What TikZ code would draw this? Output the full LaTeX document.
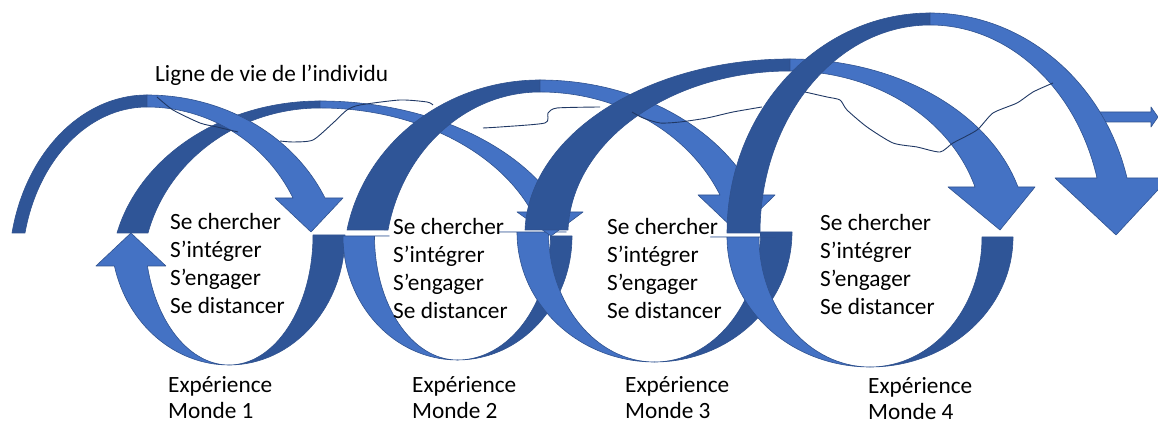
\documentclass[tikz,border=0pt]{standalone}
\usepackage{fontspec}
\setmainfont{Carlito}
\usepackage{tikz}

\definecolor{ringlight}{HTML}{4472C4}
\definecolor{ringdark}{HTML}{2F5597}
\definecolor{ringedge}{HTML}{2F528F}
\definecolor{lifeline}{HTML}{203864}

\tikzset{
    front/.style={fill=ringlight, draw=ringedge, line width=0.6pt, line join=round},
    back/.style={fill=ringdark, draw=ringedge, line width=0.6pt, line join=round},
    wave/.style={draw=lifeline, line width=0.9pt, line join=round},
    word/.style={font=\fontsize{23.3}{28}\selectfont, inner sep=0pt, anchor=base west}
}

\begin{document}
\begin{tikzpicture}[x=1pt,y=1pt]
                \useasboundingbox (0,0) rectangle (1158,427);

                % Arrow leaving on the right
                \draw[front] (1090,305) -- (1151,305) -- (1151,300) -- (1158,310) -- (1151,320) -- (1151,315) -- (1090,315) -- cycle;

                % Lower half of each world (values measured from the top)
                \foreach \cx/\ty/\by/\rol/\ror/\ril/\rir/\dy/\w/\h in {229/235/365/118/116/84/84/31/35/33, 457.5/236/360/114.5/114.5/83/93/0/30.5/0, 654.5/232/362/137.5/137.5/106/106/0/33.5/0, 870/237/367/143/143/111/112/0/32.5/0}
                {
                    \pgfmathsetmacro\ry{\by-\ty}
                    \pgfmathsetmacro\ang{asin(\dy/\ry)}
                    \pgfmathsetmacro\xo{\cx-\rol*cos(\ang)}
                    \pgfmathsetmacro\xin{\cx-\ril*cos(\ang)}
                    \pgfmathsetmacro\xm{(\xo+\xin)/2}
                    \draw[back] ({\cx+\ror},{427-\ty}) arc[start angle=0, end angle=-90, x radius=\ror, y radius=\ry]
                        arc[start angle=-90, end angle=0, x radius=\rir, y radius=\ry] -- cycle;
                    \draw[front] (\xo,{427-\ty-\dy}) arc[start angle={180+\ang}, end angle=270, x radius=\rol, y radius=\ry]
                        arc[start angle=270, end angle={180+\ang}, x radius=\ril, y radius=\ry]
                        -- ({\xm+\w},{427-\ty-\dy}) -- (\xm,{427-\ty-\dy+\h}) -- ({\xm-\w},{427-\ty-\dy}) -- cycle;
                }

                % Upper arcs, going from one world to the next
                \foreach \yo/\xLo/\xLi/\xp/\cy/\ypo/\ypi/\yb/\xRo/\xRi/\xbL/\xbR/\xt/\yt in {233/117/148/320/275/101/108/212/562/532/517/583/551/236, 233/12/25/147/270/95/107/198/325/293/275/343/311/232, 230/347/388/540/265/80/92/195/755/720/698/775/737/232, 230/525/568/790/235/59/71/187/1018/975/948/1035/1000/230, 233/727/760/930/233/13/25/178/1127/1097/1055/1169/1116/235}
                {
                    \pgfmathsetmacro\ryo{\cy-\ypo}
                    \pgfmathsetmacro\ryi{\cy-\ypi}
                    \pgfmathsetmacro\aLo{180-asin((\cy-\yo)/\ryo)}
                    \pgfmathsetmacro\aLi{180-asin((\cy-\yo)/\ryi)}
                    \pgfmathsetmacro\aRo{asin((\cy-\yb)/\ryo)}
                    \pgfmathsetmacro\aRi{asin((\cy-\yb)/\ryi)}
                    \pgfmathsetmacro\rLo{(\xp-\xLo)/cos(180-\aLo)}
                    \pgfmathsetmacro\rLi{(\xp-\xLi)/cos(180-\aLi)}
                    \pgfmathsetmacro\rRo{(\xRo-\xp)/cos(\aRo)}
                    \pgfmathsetmacro\rRi{(\xRi-\xp)/cos(\aRi)}
                    \draw[back] (\xLo,{427-\yo}) arc[start angle=\aLo, end angle=90, x radius=\rLo, y radius=\ryo]
                        -- (\xp,{427-\ypi}) arc[start angle=90, end angle=\aLi, x radius=\rLi, y radius=\ryi] -- cycle;
                    \draw[front] (\xRi,{427-\yb}) arc[start angle=\aRi, end angle=90, x radius=\rRi, y radius=\ryi]
                        -- (\xp,{427-\ypo}) arc[start angle=90, end angle=\aRo, x radius=\rRo, y radius=\ryo]
                        -- (\xbR,{427-\yb}) -- (\xt,{427-\yt}) -- (\xbL,{427-\yb}) -- cycle;
                }

                % Life line, in the pieces that show
                \draw[wave] plot[smooth, tension=0.4] coordinates {(157,330) (173,317) (200,304) (217,300) (238,295)};
                \draw[wave] plot[smooth, tension=0.4] coordinates {(280,286) (293,285) (313,287) (333,304) (347,317) (360,322) (400,327) (427,325) (433,322)};
                \draw[wave] plot[smooth, tension=0.4] coordinates {(483,299) (500,300) (545,304) (548,314) (557,319) (600,320)};
                \draw[wave] plot[smooth, tension=0.4] coordinates {(632,315) (643,309) (660,304) (680,305) (707,309) (733,315) (762,320)};
                \draw[wave] plot[smooth, tension=0.4] coordinates {(805,335) (827,330) (840,327) (847,317) (867,300) (893,284) (917,280) (940,275) (953,284) (977,297) (993,314) (1017,324) (1033,335) (1053,344)};

                % Texts
                \node[word] (ligne) at (155,345) {Ligne de vie de l’individu};

                \foreach \m/\x/\y in {1/170/230, 2/393/235, 3/607/235, 4/820/231}
                    \foreach \t [count=\k] in {Se chercher, S’intégrer, S’engager, Se distancer}
                        \node[word] (step\m-\k) at (\x,{427-\y-28*(\k-1)}) {\t};

                \foreach \m/\x/\y in {1/168/393, 2/412/393, 3/625/393, 4/868/394}
                {
                    \node[word] (exp\m) at (\x,{427-\y}) {Expérience};
                    \node[word] (monde\m) at (\x,{427-\y-26}) {Monde \m};
                }
            \end{tikzpicture}
\end{document}
